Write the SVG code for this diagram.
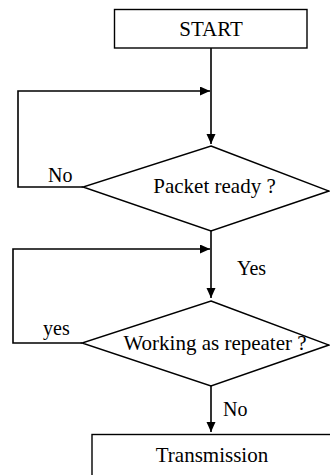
<svg xmlns="http://www.w3.org/2000/svg" width="330" height="475" viewBox="0 0 330 475">
<style>
.shape{fill:#fff;stroke:#000;stroke-width:1.4}
.conn{fill:none;stroke:#000;stroke-width:1.6}
.t{font-family:"Liberation Serif","Times New Roman",serif;font-size:21px;fill:#000}
.lbl{font-family:"Liberation Serif","Times New Roman",serif;font-size:20px;fill:#000}
</style>
<defs>
<marker id="ah" markerUnits="userSpaceOnUse" markerWidth="11" markerHeight="10" refX="10" refY="4.5" orient="auto">
<path d="M0,0 L10,4.5 L0,9 z" fill="#000"/>
</marker>
</defs>
<g id="connectors">
<line class="conn" x1="211" y1="48" x2="211" y2="144" marker-end="url(#ah)"/>
<polyline class="conn" points="83,187 18,187 18,91 210,91" marker-end="url(#ah)"/>
<line class="conn" x1="211" y1="231" x2="211" y2="298" marker-end="url(#ah)"/>
<polyline class="conn" points="82,343 13,343 13,249 210,249" marker-end="url(#ah)"/>
<line class="conn" x1="211" y1="386" x2="211" y2="432" marker-end="url(#ah)"/>
</g>
<g id="start">
<rect class="shape" x="114.5" y="9.5" width="192.5" height="38.5"/>
<text class="t" x="211" y="36" text-anchor="middle">START</text>
</g>
<g id="packet-ready">
<polygon class="shape" points="211,146 329,191 211,231 83,187"/>
<text class="t" x="214.5" y="193" text-anchor="middle">Packet ready ?</text>
</g>
<g id="repeater">
<polygon class="shape" points="211,301 329,345 211,386 82,343"/>
<text class="t" x="215" y="350" text-anchor="middle">Working as repeater ?</text>
</g>
<g id="transmission">
<rect class="shape" x="92" y="434.5" width="260" height="60"/>
<text class="t" x="212" y="462" text-anchor="middle">Transmission</text>
</g>
<g id="labels">
<text class="lbl" x="48" y="182">No</text>
<text class="lbl" x="237" y="275">Yes</text>
<text class="lbl" x="43" y="335">yes</text>
<text class="lbl" x="223" y="416">No</text>
</g>
</svg>
